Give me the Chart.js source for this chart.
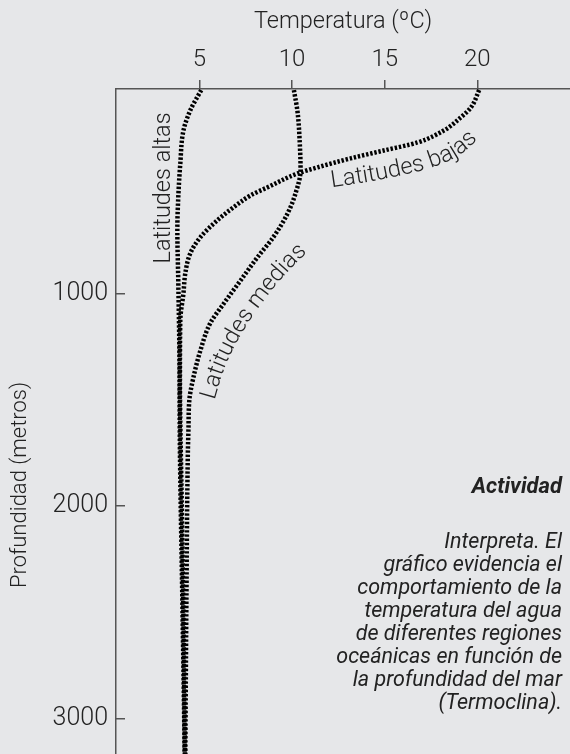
<!DOCTYPE html>
<html>
<head>
<meta charset="utf-8">
<script src="https://cdn.jsdelivr.net/npm/chart.js@4.4.1/dist/chart.umd.min.js"></script>
<style>
  html, body { margin: 0; padding: 0; background: #e6e7e9; }
  #wrap { position: relative; width: 570px; height: 754px; overflow: hidden; }
  canvas { display: block; }
  #note { position: absolute; right: 8px; top: 473px; width: 340px; text-align: right;
          font-family: Roboto, sans-serif; font-style: italic; color: #222; }
  #note h4 { margin: 0 0 30px 0; font-size: 22px; font-weight: 700; line-height: 26px; }
  #note p { margin: 0; font-size: 21.5px; line-height: 23px; font-weight: 400; }
</style>
</head>
<body>
<div id="wrap">
  <canvas id="termoclina" width="570" height="754"></canvas>
  <div id="note">
    <h4>Actividad</h4>
    <p>Interpreta. El<br>gráfico evidencia el<br>comportamiento de la<br>temperatura del agua<br>de diferentes regiones<br>oceánicas en función de<br>la profundidad del mar<br>(Termoclina).</p>
  </div>
</div>
<script>
// Ejes
const tempTicks  = [5, 10, 15, 20];
const depthTicks = [1000, 2000, 3000];

// Latitudes altas
const altasDepth = [45, 140, 235, 390, 550, 700, 940, 1270, 1740, 2440, 3070, 3165];
const altasTemp  = [5.1, 4.51, 4.14, 3.97, 3.86, 3.81, 3.86, 3.92, 3.95, 4.08, 4.19, 4.2];

// Latitudes medias
const mediasDepth = [45, 150, 300, 420, 530, 625, 735, 830, 940, 1050, 1140, 1270, 1395, 1500, 1640, 1740, 2440, 3165];
const mediasTemp  = [10.1, 10.3, 10.42, 10.46, 10.19, 9.76, 9.0, 8.14, 7.22, 6.3, 5.59, 5.05, 4.68, 4.46, 4.41, 4.38, 4.3, 4.24];

// Latitudes bajas
const bajasDepth = [45, 127, 174, 235, 291, 329, 366, 408, 437, 502, 540, 596, 657, 737, 812, 906, 1000, 1127, 1400, 2000, 2600, 3165];
const bajasTemp  = [20.1, 19.65, 19.1, 18.19, 16.78, 14.95, 13.16, 11.38, 10.3, 8.68, 7.76, 6.84, 5.97, 5.05, 4.51, 4.24, 4.14, 3.97, 3.95, 4.05, 4.15, 4.22];

const FONT = 'Roboto, "Liberation Sans", sans-serif';
const INK = '#222';
const AXIS = '#555';

function serie(label, temps, depths) {
  return { label, data: depths.map((d, i) => ({ x: temps[i], y: d })) };
}

// muestrea una curva suave (catmull-rom) por los puntos
function smooth(pts) {
  const out = [];
  const n = pts.length;
  for (let i = 0; i < n - 1; i++) {
    const p0 = pts[Math.max(i - 1, 0)], p1 = pts[i], p2 = pts[i + 1], p3 = pts[Math.min(i + 2, n - 1)];
    for (let k = 0; k < 20; k++) {
      const t = k / 20, t2 = t * t, t3 = t2 * t;
      const f = (a, b, c, d) => 0.5 * (2 * b + (-a + c) * t + (2 * a - 5 * b + 4 * c - d) * t2 + (-a + 3 * b - 3 * c + d) * t3);
      out.push([f(p0[0], p1[0], p2[0], p3[0]), f(p0[1], p1[1], p2[1], p3[1])]);
    }
  }
  out.push(pts[n - 1]);
  return out;
}

function textOnPath(ctx, text, pts) {
  const path = smooth(pts);
  const seg = [];
  let total = 0;
  for (let i = 0; i < path.length - 1; i++) {
    const dx = path[i + 1][0] - path[i][0], dy = path[i + 1][1] - path[i][1];
    const len = Math.hypot(dx, dy);
    seg.push({ a: path[i], dx, dy, len, s: total });
    total += len;
  }
  const at = s => {
    let g = seg[seg.length - 1];
    for (const q of seg) { if (s <= q.s + q.len) { g = q; break; } }
    const t = g.len ? (s - g.s) / g.len : 0;
    return { x: g.a[0] + g.dx * t, y: g.a[1] + g.dy * t, ang: Math.atan2(g.dy, g.dx) };
  };
  let s = 0;
  for (const ch of text) {
    const w = ctx.measureText(ch).width;
    const p = at(s + w / 2);
    ctx.save();
    ctx.translate(p.x, p.y);
    ctx.rotate(p.ang);
    ctx.fillText(ch, 0, 0);
    ctx.restore();
    s += w;
  }
}

const curveLabels = {
  id: 'curveLabels',
  afterDatasetsDraw(chart, args, opts) {
    const { ctx, scales: { x, y } } = chart;
    ctx.save();
    ctx.font = opts.font;
    ctx.fillStyle = INK;
    ctx.textAlign = 'center';
    ctx.textBaseline = 'alphabetic';
    opts.items.forEach(it => {
      const pts = it.path.map(p => [x.getPixelForValue(p[0]), y.getPixelForValue(p[1])]);
      textOnPath(ctx, it.text, pts);
    });
    // titulo del eje vertical
    ctx.font = '300 22px ' + FONT;
    ctx.translate(20, 485);
    ctx.rotate(-Math.PI / 2);
    ctx.textBaseline = 'middle';
    ctx.fillText('Profundidad (metros)', 0, 0);
    ctx.restore();
  }
};

new Chart(document.getElementById('termoclina'), {
  type: 'line',
  data: {
    datasets: [
      serie('Latitudes altas', altasTemp, altasDepth),
      serie('Latitudes medias', mediasTemp, mediasDepth),
      serie('Latitudes bajas', bajasTemp, bajasDepth),
    ]
  },
  options: {
    responsive: false,
    animation: false,
    indexAxis: 'y',
    layout: { padding: 0 },
    elements: {
      point: { radius: 0 },
      line: { borderColor: '#000', borderWidth: 4.5, borderDash: [2.4, 1.8], cubicInterpolationMode: 'monotone', fill: false }
    },
    plugins: {
      legend: { display: false },
      tooltip: { enabled: false },
      curveLabels: {
        font: '300 23.5px ' + FONT,
        items: [
          { text: 'Latitudes altas', path: [[3.43, 860], [3.43, 100]] },
          { text: 'Latitudes medias', path: [[5.81, 1502], [6.41, 1338], [7.38, 1174], [8.57, 1023], [10.08, 869], [11.43, 761]] },
          { text: 'Latitudes bajas', path: [[12.14, 502], [14.78, 465], [17.38, 413], [19.0, 352], [20.35, 249]] },
        ]
      }
    },
    scales: {
      x: {
        type: 'linear', position: 'top', min: 0.5, max: 25,
        afterBuildTicks: s => { s.ticks = tempTicks.map(v => ({ value: v })); },
        afterFit: s => { s.height = 89; s.paddingLeft = 0; s.paddingRight = 0; },
        grid: { drawOnChartArea: false, tickLength: 9, color: AXIS, lineWidth: 1.5 },
        border: { color: AXIS, width: 1.5 },
        ticks: { padding: 6, maxRotation: 0, color: INK, font: { family: FONT, size: 24, weight: 300 }, callback: v => String(v) },
        title: { display: true, text: 'Temperatura (ºC)', color: INK, padding: { top: 8, bottom: 2 }, font: { family: FONT, size: 23.5, weight: 300 } }
      },
      y: {
        type: 'linear', reverse: true, min: 40, max: 3165,
        afterBuildTicks: s => { s.ticks = depthTicks.map(v => ({ value: v })); },
        afterFit: s => { s.width = 116; s.paddingTop = 0; s.paddingBottom = 0; },
        grid: { drawOnChartArea: false, tickLength: -9, color: AXIS, lineWidth: 1.5 },
        border: { color: AXIS, width: 1.5 },
        ticks: { padding: 17, color: INK, font: { family: FONT, size: 25, weight: 300 }, callback: v => String(v) }
      }
    }
  },
  plugins: [curveLabels]
});
</script>
</body>
</html>
